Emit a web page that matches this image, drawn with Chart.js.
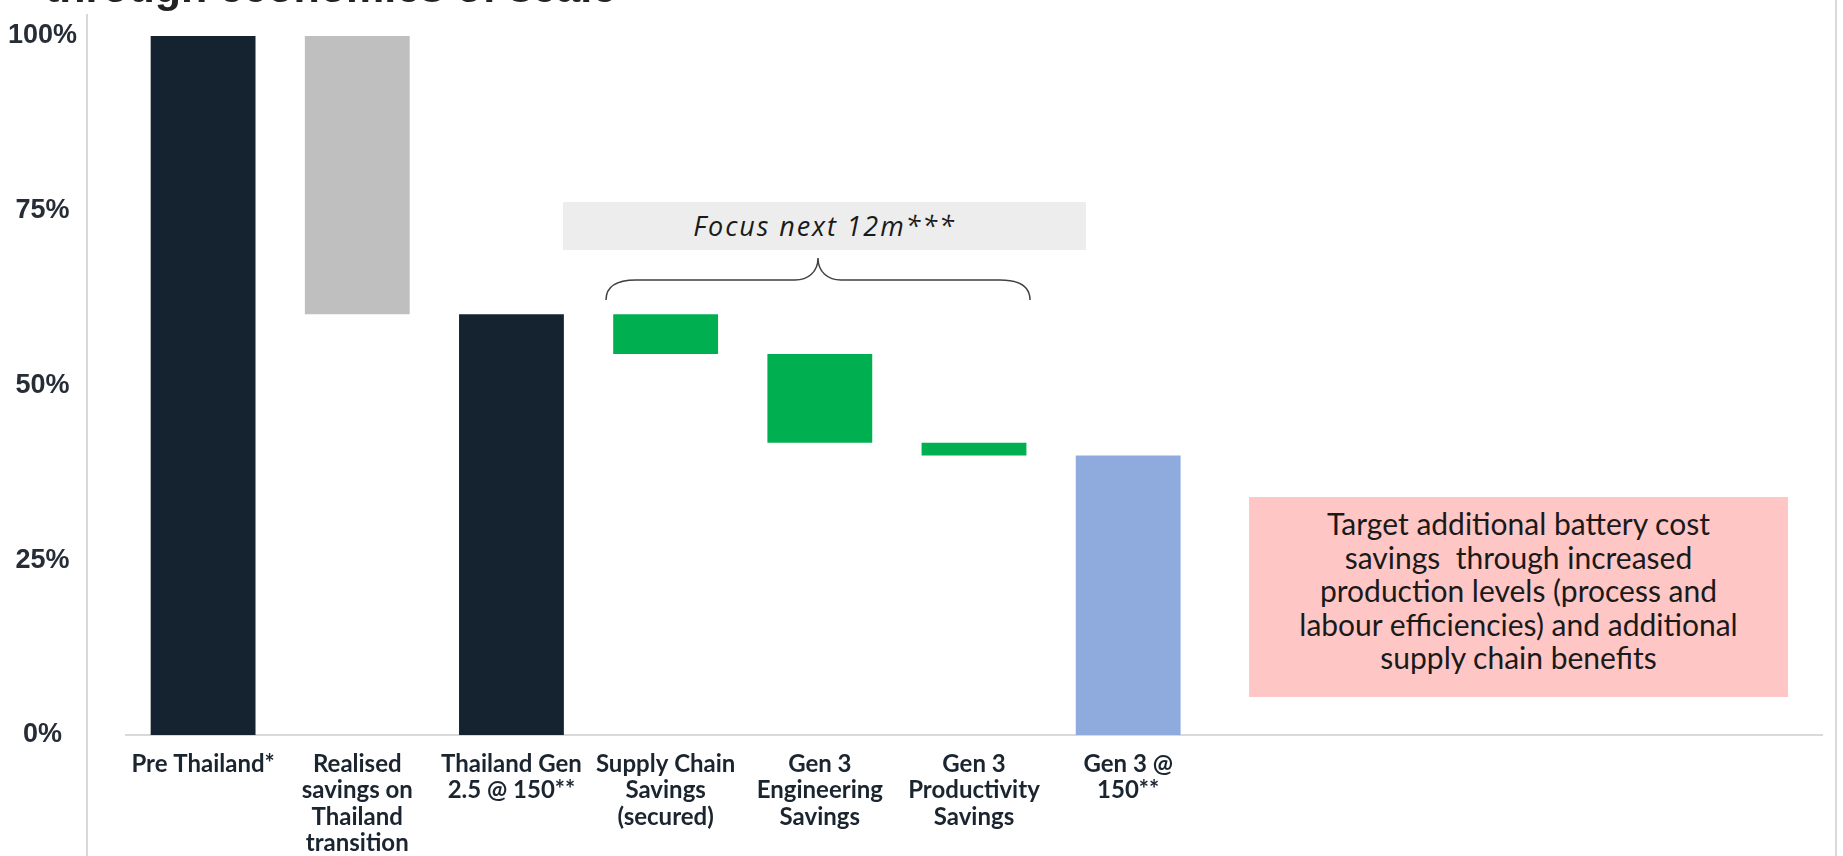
<!DOCTYPE html>
<html>
<head>
<meta charset="utf-8">
<script src="https://cdn.jsdelivr.net/npm/chart.js@4/dist/chart.umd.min.js"></script>
<style>
    html, body { margin: 0; padding: 0; background: #fff; }
    #wrap { position: relative; width: 1843px; height: 856px; overflow: hidden; }
    #myChart { position: absolute; left: 0; top: 0; }
    .title {
        position: absolute; left: 45px; top: -34px;
        font: bold 43px "Liberation Sans", Arial, sans-serif; line-height: 43px;
        color: #222; white-space: nowrap;
    }
    .vline { position: absolute; background: #d9d9d9; width: 2px; }
    .focus {
        position: absolute; left: 563px; top: 202px; width: 523px; height: 48px;
        background: #ededed; color: #1a1a1a; letter-spacing: 1.9px;
        font: italic 27px "Open Sans", Lato, sans-serif; line-height: 48px; text-align: center;
    }
    .target {
        position: absolute; left: 1249px; top: 497px; width: 539px; height: 200px;
        background: #ffc6c6; color: #1a1a1a; box-sizing: border-box; padding-top: 10px;
        font: 30px Lato, "Open Sans", sans-serif; line-height: 33.5px; text-align: center;
    }
    svg { position: absolute; left: 0; top: 0; }
</style>
</head>
<body>
<div id="wrap">
    <canvas id="myChart" width="1843" height="856"></canvas>
    <div class="title">through economies of scale</div>
    <div class="vline" style="left:86px; top:14px; height:842px;"></div>
    <div class="vline" style="left:1835px; top:0; height:856px;"></div>
    <div class="focus">Focus next 12m***</div>
    <svg width="1843" height="856">
        <path d="M606,300 C606,287 615,280 636,280 L795,280 C808,280 818,272 818,258 C818,272 828,280 841,280 L1000,280 C1021,280 1030,287 1030,300"
              fill="none" stroke="#404040" stroke-width="1.5"/>
    </svg>
    <div class="target">Target additional battery cost<br>savings &nbsp;through increased<br>production levels (process and<br>labour efficiencies) and additional<br>supply chain benefits</div>
</div>
<script>
// --- DONNÉES ---
const categories = [
    ['Pre Thailand*'],
    ['Realised', 'savings on', 'Thailand', 'transition'],
    ['Thailand Gen', '2.5 @ 150**'],
    ['Supply Chain', 'Savings', '(secured)'],
    ['Gen 3', 'Engineering', 'Savings'],
    ['Gen 3', 'Productivity', 'Savings'],
    ['Gen 3 @', '150**'],
    '', '', '', ''
];
const barStart = [0, 60.2, 0, 54.5, 41.8, 40.0, 0];
const barEnd = [100, 100, 60.2, 60.2, 54.5, 41.8, 40.0];
const barColors = ['#152331', '#bfbfbf', '#152331', '#00b050', '#00b050', '#00b050', '#8faadc'];
const yTicks = [0, 25, 50, 75, 100];

// --- LE GRAPHIQUE WATERFALL ---
const ctx = document.getElementById('myChart');
const myChart = new Chart(ctx, {
    type: 'bar',
    data: {
        labels: categories,
        datasets: [{
            data: barStart.map((s, i) => [s, barEnd[i]]),
            backgroundColor: barColors,
            borderWidth: 0,
            barPercentage: 0.68,
            categoryPercentage: 1
        }]
    },
    options: {
        responsive: false,
        animation: false,
        layout: { padding: { top: 36, right: 21, left: 0, bottom: 0 } },
        plugins: { legend: { display: false }, tooltip: { enabled: false } },
        scales: {
            x: {
                grid: { display: false },
                border: { color: '#d9d9d9', width: 2 },
                ticks: {
                    autoSkip: false, maxRotation: 0, padding: 8,
                    color: '#1b2530',
                    font: { family: 'Lato', size: 24, weight: 'bold', lineHeight: 1.1 }
                },
                afterFit: (scale) => { scale.height = 121; }
            },
            y: {
                min: 0, max: 100,
                grid: { display: false, drawTicks: false },
                border: { display: false },
                afterBuildTicks: (scale) => { scale.ticks = yTicks.map(v => ({ value: v })); },
                ticks: {
                    padding: 49, crossAlign: 'center',
                    color: '#262d36',
                    font: { family: 'Liberation Sans', size: 27, weight: 'bold' },
                    callback: (v) => v + '%'
                },
                // largeur fixe, sans marge haute/basse ajoutée par le padding des ticks
                afterFit: (scale) => {
                    scale.width = 126;
                    scale.paddingTop = 0;
                    scale.paddingBottom = 0;
                }
            }
        }
    }
});
</script>
</body>
</html>
